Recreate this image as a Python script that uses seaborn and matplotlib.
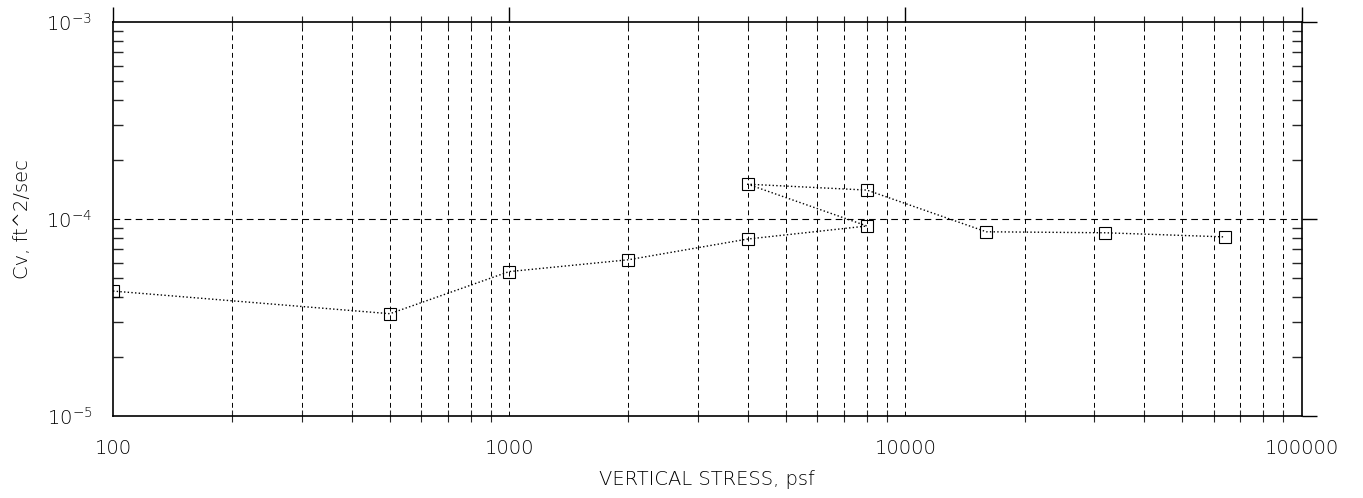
import numpy as np
import pandas as pd
import matplotlib
matplotlib.use('Agg')
import matplotlib.pyplot as plt
import matplotlib.ticker as mticker
import seaborn as sns

# load sequence of the consolidation test (load, unload, reload)
stress_psf = [100, 500, 1000, 2000, 4000, 8000, 4000, 8000, 16000, 32000, 64000]
cv_ft2_sec = [4.3e-5, 3.3e-5, 5.4e-5, 6.2e-5, 7.9e-5, 9.2e-5, 1.5e-4, 1.4e-4, 8.6e-5, 8.5e-5, 8.1e-5]
x_tick_labels = ["100", "1000", "10000", "100000"]

df = pd.DataFrame({"stress": stress_psf, "cv": cv_ft2_sec})

sns.set_style("white")
plt.rcParams['font.family'] = ['DejaVu Sans']
plt.rcParams['text.color'] = 'black'
plt.rcParams['axes.labelcolor'] = 'black'

fig = plt.figure(figsize=(13.63, 4.98), dpi=100)
ax = fig.add_axes([0.0829, 0.165, 0.872, 0.791])

sns.lineplot(data=df, x="stress", y="cv", sort=False, estimator=None, ax=ax,
             color="black", linestyle=":", linewidth=1.0,
             marker="s", markersize=8, markerfacecolor="none",
             markeredgecolor="black", markeredgewidth=0.8)

ax.set_xscale("log")
ax.set_yscale("log")
ax.set_xlim(100, 100000)
ax.set_ylim(1e-5, 1e-3)

ax.xaxis.set_major_locator(mticker.FixedLocator([100, 1000, 10000, 100000]))
ax.xaxis.set_major_formatter(mticker.FixedFormatter(x_tick_labels))
ax.xaxis.set_minor_locator(mticker.LogLocator(base=10, subs=np.arange(2, 10)))
ax.xaxis.set_minor_formatter(mticker.NullFormatter())
ax.yaxis.set_major_locator(mticker.LogLocator(base=10, numticks=5))
ax.yaxis.set_minor_locator(mticker.LogLocator(base=10, subs=np.arange(2, 10), numticks=10))
ax.yaxis.set_minor_formatter(mticker.NullFormatter())

# dashed grid: every x decade line, only the middle y decade
ax.grid(False)
for xv in list(range(200, 1000, 100)) + list(range(1000, 10000, 1000)) + list(range(10000, 100000, 10000)):
    ax.axvline(xv, color="black", linestyle=(0, (5, 4)), linewidth=0.7, zorder=0)
ax.axhline(1e-4, color="black", linestyle=(0, (6, 4)), linewidth=0.8, zorder=0)

for s in ax.spines.values():
    s.set_linewidth(1.2)
    s.set_color("black")

ax.tick_params(axis="both", which="major", direction="out", length=11, width=1.0,
               top=True, right=True, labelsize=14, pad=6, colors="black")
ax.tick_params(axis="y", which="minor", direction="in", length=7, width=1.0,
               left=True, right=True)
ax.tick_params(axis="x", which="minor", direction="inout", length=8, width=0.8,
               bottom=True, top=True)
ax.tick_params(axis="y", which="major", pad=4)
for lab in ax.get_xticklabels() + ax.get_yticklabels():
    lab.set_fontweight("light")

ax.set_xlabel("VERTICAL STRESS, psf", fontsize=14, labelpad=8, fontweight="light")
ax.set_ylabel("Cv, ft^2/sec", fontsize=14, labelpad=10, fontweight="light")

fig.savefig("out.png", dpi=100, facecolor="white")
